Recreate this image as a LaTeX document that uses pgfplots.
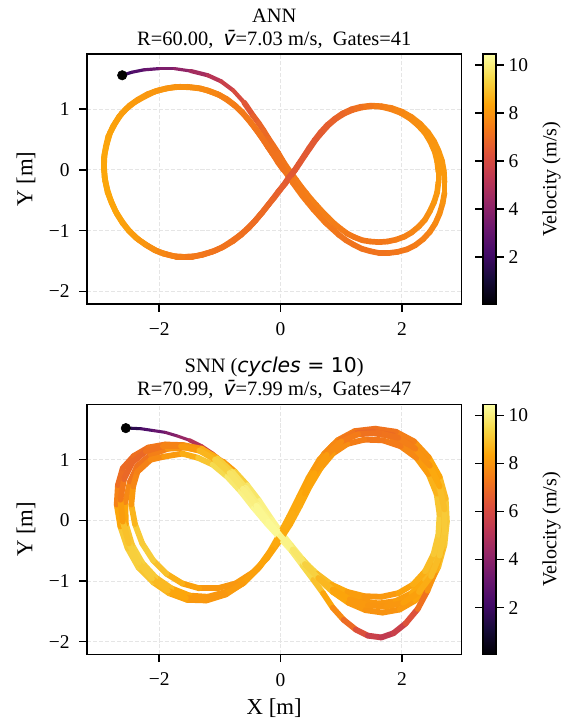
\documentclass[border=0pt]{standalone}
\usepackage{fontspec}
\setmainfont{Liberation Serif}
\newfontfamily\djv{DejaVu Sans}
\newfontfamily\djvit{DejaVu Sans Oblique}
\usepackage{pgfplots}
\usepackage{pgfplotstable}
\pgfplotsset{compat=1.18}

\pgfplotsset{colormap={inferno}{rgb255=(0,0,4) rgb255=(22,11,57) rgb255=(66,10,104) rgb255=(106,23,110) rgb255=(147,38,103) rgb255=(188,55,84) rgb255=(221,81,58) rgb255=(243,120,25) rgb255=(252,165,10) rgb255=(246,215,70) rgb255=(252,255,164)}}

% ANN: start of the run (slow part), drawn thinner
\pgfplotstableread{
x y v
-2.58 1.57 1.5
-2.45 1.61 2.3
-2.25 1.65 2.9
-2.00 1.67 3.4
-1.75 1.67 3.9
-1.48 1.63 4.4
}\annstartA
\pgfplotstableread{
x y v
-1.48 1.63 4.4
-1.20 1.56 4.9
-0.98 1.46 5.4
-0.78 1.31 5.9
-0.60 1.11 6.3
}\annstartB
\pgfplotstableread{
x y v
-0.60 1.11 6.3
-0.45 0.89 6.6
-0.36 0.77 6.8
-0.28 0.65 6.9
-0.20 0.52 7.0
-0.12 0.40 7.1
-0.04 0.28 7.2
0.03 0.16 7.2
0.10 0.05 7.3
0.18 -0.06 7.3
0.26 -0.17 7.4
0.34 -0.28 7.4
0.42 -0.38 7.4
0.50 -0.48 7.5
0.59 -0.58 7.5
0.68 -0.68 7.5
0.78 -0.78 7.5
0.88 -0.88 7.5
0.99 -0.97 7.4
1.10 -1.05 7.4
1.22 -1.11 7.3
1.35 -1.16 7.3
1.48 -1.18 7.3
1.62 -1.19 7.3
1.76 -1.18 7.3
1.90 -1.15 7.4
2.04 -1.10 7.5
2.16 -1.03 7.6
2.28 -0.93 7.7
2.38 -0.82 7.8
2.46 -0.68 7.9
2.53 -0.53 8.0
2.58 -0.37 8.1
2.60 -0.20 8.1
2.60 -0.03 8.1
2.58 0.14 8.1
2.54 0.30 8.1
2.47 0.46 8.0
2.38 0.61 8.0
2.26 0.74 7.9
2.13 0.85 7.8
1.98 0.94 7.7
1.82 1.00 7.6
1.66 1.04 7.5
1.50 1.05 7.4
1.34 1.03 7.2
1.19 0.99 7.1
1.05 0.93 6.9
0.92 0.85 6.8
0.80 0.75 6.7
0.69 0.63 6.6
0.58 0.50 6.5
0.49 0.37 6.5
0.40 0.24 6.5
0.32 0.12 6.5
0.24 0.00 6.5
0.16 -0.11 6.5
0.08 -0.22 6.6
-0.01 -0.33 6.7
-0.10 -0.45 6.8
-0.20 -0.57 6.9
-0.30 -0.70 7.0
-0.41 -0.83 7.0
-0.52 -0.95 7.1
-0.65 -1.07 7.1
-0.78 -1.17 7.2
-0.93 -1.26 7.2
-1.08 -1.33 7.2
-1.24 -1.38 7.3
-1.40 -1.42 7.3
-1.56 -1.43 7.4
-1.72 -1.43 7.5
-1.88 -1.39 7.6
-2.03 -1.34 7.8
-2.19 -1.25 7.9
-2.34 -1.15 8.1
-2.48 -1.02 8.2
-2.60 -0.88 8.3
-2.70 -0.72 8.3
-2.78 -0.55 8.4
-2.85 -0.37 8.4
-2.89 -0.18 8.4
-2.91 0.01 8.4
-2.91 0.20 8.4
-2.88 0.38 8.4
-2.84 0.55 8.3
-2.76 0.72 8.3
-2.66 0.88 8.2
-2.54 1.01 8.2
-2.40 1.12 8.1
-2.24 1.21 8.1
-2.08 1.29 8.0
-1.90 1.34 8.0
-1.72 1.37 7.9
-1.54 1.37 7.9
-1.36 1.35 7.8
-1.20 1.31 7.7
-1.04 1.25 7.6
-0.89 1.17 7.5
-0.76 1.07 7.4
-0.63 0.95 7.4
-0.52 0.82 7.3
-0.42 0.69 7.3
-0.32 0.55 7.2
-0.23 0.42 7.2
-0.14 0.28 7.2
-0.05 0.15 7.2
0.03 0.03 7.2
0.12 -0.09 7.3
0.20 -0.21 7.3
0.28 -0.32 7.4
0.36 -0.43 7.4
0.45 -0.54 7.4
0.54 -0.65 7.4
0.64 -0.76 7.4
0.74 -0.87 7.4
0.85 -0.97 7.3
0.96 -1.07 7.3
1.08 -1.16 7.2
1.20 -1.23 7.2
1.34 -1.30 7.2
1.48 -1.34 7.2
1.63 -1.37 7.2
1.78 -1.37 7.2
1.93 -1.35 7.3
2.08 -1.31 7.3
2.22 -1.24 7.4
2.35 -1.14 7.5
2.46 -1.02 7.6
2.55 -0.88 7.7
2.62 -0.72 7.8
2.67 -0.55 7.9
2.70 -0.38 8.0
2.70 -0.20 8.1
2.69 -0.02 8.1
2.66 0.15 8.1
2.60 0.32 8.1
2.53 0.47 8.0
2.43 0.62 8.0
2.30 0.76 7.9
2.16 0.87 7.8
2.00 0.96 7.7
1.83 1.02 7.6
1.66 1.05 7.5
1.49 1.06 7.4
1.32 1.04 7.2
1.17 1.00 7.1
1.02 0.93 6.9
0.89 0.84 6.8
0.77 0.74 6.7
0.66 0.62 6.6
0.56 0.49 6.5
0.47 0.36 6.5
0.38 0.22 6.5
0.30 0.10 6.5
0.22 -0.02 6.5
0.13 -0.13 6.5
0.05 -0.25 6.6
-0.04 -0.36 6.7
-0.13 -0.48 6.8
-0.23 -0.61 6.9
-0.33 -0.73 7.0
-0.44 -0.86 7.0
-0.56 -0.98 7.1
-0.69 -1.09 7.1
-0.83 -1.19 7.2
-0.97 -1.28 7.2
-1.13 -1.35 7.2
-1.29 -1.40 7.3
-1.45 -1.43 7.3
-1.61 -1.43 7.4
-1.77 -1.42 7.5
-1.93 -1.38 7.6
-2.08 -1.32 7.8
-2.23 -1.23 7.9
-2.38 -1.12 8.1
-2.51 -0.99 8.2
-2.62 -0.84 8.3
-2.72 -0.68 8.3
-2.80 -0.50 8.4
-2.86 -0.31 8.4
-2.90 -0.12 8.4
-2.91 0.07 8.4
-2.90 0.26 8.4
-2.86 0.44 8.4
-2.81 0.61 8.3
-2.72 0.78 8.3
-2.62 0.93 8.2
-2.49 1.06 8.2
-2.35 1.16 8.1
-2.19 1.25 8.1
-2.02 1.31 8.0
-1.84 1.35 8.0
-1.66 1.37 7.9
-1.48 1.36 7.9
-1.31 1.34 7.8
-1.15 1.29 7.7
-1.00 1.23 7.6
-0.86 1.14 7.5
-0.73 1.04 7.4
-0.61 0.92 7.4
-0.50 0.79 7.3
-0.40 0.66 7.3
-0.30 0.52 7.2
-0.21 0.38 7.2
-0.12 0.25 7.2
-0.04 0.12 7.2
0.05 0.00 7.2
}\anndata

% SNN: start of the run (slow part), drawn thinner
\pgfplotstableread{
x y v
-2.50 1.52 1.0
-2.30 1.51 2.2
-2.10 1.48 2.8
-1.90 1.45 3.4
-1.70 1.39 4.0
-1.50 1.32 4.6
}\snnstartA
\pgfplotstableread{
x y v
-1.50 1.32 4.6
-1.30 1.22 5.4
-1.12 1.10 6.2
-0.95 0.97 7.5
}\snnstartB
\pgfplotstableread{
x y v
-0.95 0.97 7.5
-0.75 0.80 8.8
-0.55 0.58 9.6
-0.35 0.32 10.0
-0.15 0.02 10.2
0.02 -0.22 10.2
0.18 -0.42 10.1
0.36 -0.64 9.8
0.56 -0.86 9.3
0.80 -1.06 8.8
1.06 -1.22 8.4
1.34 -1.33 8.1
1.62 -1.37 8.0
1.90 -1.33 8.1
2.16 -1.20 8.3
2.38 -0.98 8.6
2.55 -0.68 8.9
2.65 -0.34 9.2
2.68 0.02 9.3
2.64 0.38 9.0
2.52 0.72 8.6
2.32 1.02 8.1
2.06 1.26 7.6
1.76 1.40 7.3
1.44 1.45 7.2
1.12 1.40 7.4
0.86 1.24 7.8
0.64 1.00 8.1
0.46 0.70 8.3
0.30 0.38 8.4
0.14 0.06 8.5
-0.02 -0.24 8.5
-0.18 -0.52 8.4
-0.38 -0.80 8.3
-0.62 -1.02 8.2
-0.90 -1.18 8.1
-1.20 -1.26 8.0
-1.50 -1.24 8.2
-1.80 -1.12 8.6
-2.06 -0.94 9.0
-2.28 -0.70 9.3
-2.45 -0.40 9.3
-2.55 -0.06 8.8
-2.56 0.30 8.0
-2.48 0.64 7.4
-2.36 0.90 7.1
-2.14 1.08 7.3
-1.86 1.18 7.7
-1.56 1.20 8.2
-1.28 1.14 8.8
-1.02 0.98 9.4
-0.78 0.76 9.8
-0.56 0.50 10.0
-0.36 0.22 10.2
-0.16 -0.04 10.3
0.02 -0.26 10.3
0.20 -0.48 10.1
0.40 -0.72 9.7
0.62 -0.96 9.1
0.86 -1.18 8.6
1.12 -1.36 8.2
1.40 -1.48 8.0
1.68 -1.52 7.9
1.96 -1.47 8.0
2.22 -1.32 8.2
2.44 -1.08 8.5
2.60 -0.76 8.8
2.70 -0.40 9.1
2.74 -0.02 9.2
2.72 0.36 9.0
2.62 0.72 8.6
2.44 1.04 8.2
2.20 1.30 7.7
1.90 1.46 7.3
1.56 1.51 7.1
1.22 1.47 7.2
0.94 1.32 7.6
0.72 1.10 8.0
0.54 0.82 8.3
0.38 0.50 8.4
0.22 0.16 8.5
0.06 -0.16 8.5
-0.12 -0.46 8.4
-0.34 -0.76 8.3
-0.60 -1.02 8.2
-0.90 -1.22 8.1
-1.22 -1.32 8.0
-1.54 -1.31 8.1
-1.84 -1.20 8.5
-2.10 -1.02 8.9
-2.34 -0.78 9.2
-2.52 -0.46 9.3
-2.64 -0.10 8.9
-2.70 0.26 7.9
-2.68 0.58 7.2
-2.60 0.86 6.9
-2.42 1.06 7.0
-2.18 1.20 7.2
-1.90 1.25 7.4
-1.60 1.24 7.7
-1.30 1.18 8.2
-1.04 1.02 8.9
-0.80 0.80 9.5
-0.58 0.54 9.9
-0.38 0.26 10.1
-0.18 -0.02 10.2
0.00 -0.26 10.2
0.18 -0.46 10.0
0.38 -0.68 9.6
0.60 -0.88 9.1
0.84 -1.06 8.6
1.10 -1.18 8.3
1.38 -1.25 8.1
1.66 -1.26 8.0
1.94 -1.20 8.2
2.18 -1.06 8.4
2.38 -0.84 8.7
2.52 -0.56 9.0
2.60 -0.24 9.2
2.62 0.10 9.2
2.57 0.44 8.9
2.44 0.76 8.4
2.24 1.03 7.9
1.98 1.22 7.5
1.68 1.32 7.3
1.38 1.33 7.3
1.10 1.26 7.6
0.86 1.10 8.0
0.66 0.86 8.3
0.48 0.56 8.4
0.32 0.24 8.5
0.16 -0.06 8.5
-0.02 -0.34 8.4
-0.22 -0.62 8.3
-0.46 -0.86 8.2
-0.74 -1.04 8.1
-1.04 -1.12 8.0
-1.34 -1.12 8.1
-1.62 -1.04 8.4
-1.88 -0.88 8.8
-2.10 -0.66 9.1
-2.28 -0.38 9.3
-2.40 -0.06 9.0
-2.46 0.26 8.4
-2.43 0.56 7.8
-2.36 0.80 7.5
-2.14 1.00 7.6
-1.92 1.05 7.9
-1.62 1.10 8.3
-1.36 1.03 8.8
-1.12 0.92 9.3
-0.88 0.72 9.7
-0.66 0.48 10.0
-0.44 0.20 10.2
-0.22 -0.06 10.3
-0.02 -0.28 10.3
0.18 -0.50 10.1
0.36 -0.74 9.7
0.54 -0.98 9.2
0.70 -1.20 8.7
0.86 -1.44 8.1
1.04 -1.64 7.4
1.24 -1.80 6.6
1.44 -1.90 5.9
1.66 -1.93 5.4
1.86 -1.86 5.4
2.06 -1.70 5.9
2.26 -1.46 6.7
2.42 -1.16 7.6
2.56 -0.82 8.3
2.66 -0.46 8.8
2.70 -0.08 9.1
2.68 0.30 9.0
2.58 0.66 8.6
2.40 0.98 8.1
2.16 1.24 7.6
1.86 1.40 7.2
1.52 1.46 6.8
1.20 1.43 7.0
0.92 1.28 7.5
0.70 1.06 7.9
0.52 0.78 8.2
0.36 0.46 8.4
0.20 0.12 8.5
0.04 -0.18 8.5
-0.14 -0.48 8.4
-0.36 -0.78 8.3
-0.62 -1.04 8.2
-0.92 -1.22 8.1
-1.24 -1.30 8.0
-1.56 -1.28 8.2
-1.86 -1.16 8.6
-2.12 -0.96 9.0
-2.34 -0.70 9.3
-2.50 -0.38 9.2
-2.60 -0.02 8.7
-2.64 0.34 7.7
-2.58 0.68 7.0
-2.44 0.96 6.8
-2.22 1.14 7.0
-1.94 1.22 7.4
-1.64 1.22 7.8
-1.34 1.15 8.4
-1.08 1.00 9.0
-0.84 0.78 9.6
-0.62 0.52 9.9
-0.40 0.24 10.2
-0.20 -0.02 10.3
0.00 -0.26 10.3
0.20 -0.48 10.0
0.40 -0.72 9.6
0.62 -0.95 9.0
0.86 -1.14 8.5
1.14 -1.30 8.2
1.44 -1.40 8.0
1.74 -1.42 8.0
2.02 -1.36 8.1
2.28 -1.18 8.4
2.48 -0.92 8.7
2.62 -0.58 9.0
2.70 -0.20 9.2
2.70 0.18 9.1
2.62 0.56 8.7
2.46 0.90 8.2
2.22 1.18 7.7
1.94 1.36 7.3
1.62 1.44 7.1
1.28 1.42 7.2
1.00 1.30 7.6
0.76 1.08 8.0
0.56 0.78 8.3
0.40 0.44 8.4
}\snndata

\pgfplotsset{
  traj/.style={mesh, shader=flat, line cap=round, point meta=explicit},
  trajaxis/.style={
    scale only axis,
    width=269.6pt, height=180pt,
    xmin=-3.19, xmax=2.98, ymin=-2.21, ymax=1.91,
    axis line style={line width=1.1pt},
    tick style={line width=1.1pt, black},
    major tick length=5.6pt,
    tick align=outside,
    xtick pos=lower, ytick pos=left,
    xtick={-2,0,2}, xticklabels={−2,0,2},
    ytick={-2,-1,0,1}, yticklabels={−2,−1,0,1},
    tick label style={font=\fontsize{14}{16}\selectfont},
    xticklabel style={yshift=-4.3pt},
    yticklabel style={xshift=-3.4pt},
    label style={font=\fontsize{16.4}{18}\selectfont},
    grid=major,
    grid style={dash pattern=on 2.9pt off 1.4pt, line width=0.7pt, black!10},
    ylabel={Y [m]},
    ylabel style={at={(axis description cs:-0.163,0.5)}, anchor=center},
    xlabel style={at={(axis description cs:0.5,-0.214)}, anchor=center},
    title style={align=center, inner sep=0pt, anchor=south, at={(0.5,1)}, yshift=-2pt, font=\fontsize{14.7}{16.6}\selectfont},
    colormap name=inferno,
    point meta min=0.05, point meta max=10.45,
    colorbar,
    colorbar shift/.style={xshift=15.7pt},
    colorbar style={
      at={(parent axis.north east)}, anchor=north west,
      width=9.1pt,
      axis line style={line width=1.1pt},
      tick style={line width=1.1pt, black},
      major tick length=5.6pt,
      tick align=outside,
      ytick={2,4,6,8,10}, yticklabels={2,4,6,8,10},
      tick label style={font=\fontsize{14}{16}\selectfont},
      ylabel={Velocity (m/s)},
      ylabel style={font=\fontsize{14.5}{16}\selectfont, at={(axis description cs:5.41,0.5)}, anchor=center},
    },
  }
}

\begin{document}
\begin{tikzpicture}
\useasboundingbox (0,0) rectangle (410.4pt,-519.84pt);
\begin{axis}[trajaxis,
  at={(62.64pt,-218.9pt)}, anchor=south west,
  title={ANN\\R=60.00,\ \ {\djvit v̄}=7.03 m/s,\ \ Gates=41}]
\addplot[traj, line width=2.3pt] table[x=x, y=y, meta=v] {\annstartA};
\addplot[traj, line width=3.0pt] table[x=x, y=y, meta=v] {\annstartB};
\addplot[traj, line width=4.1pt] table[x=x, y=y, meta=v] {\anndata};
\addplot[only marks, mark=*, mark size=3.4pt, black] coordinates {(-2.61,1.56)};
\end{axis}
\begin{axis}[trajaxis,
  at={(62.64pt,-471.2pt)}, anchor=south west,
  xlabel={X [m]},
  title={SNN ({\djvit cycles}{\djv\ =\ 10})\\R=70.99,\ \ {\djvit v̄}=7.99 m/s,\ \ Gates=47}]
\addplot[traj, line width=2.2pt] table[x=x, y=y, meta=v] {\snnstartA};
\addplot[traj, line width=3.0pt] table[x=x, y=y, meta=v] {\snnstartB};
\addplot[traj, line width=4.2pt] table[x=x, y=y, meta=v] {\snndata};
\addplot[only marks, mark=*, mark size=3.4pt, black] coordinates {(-2.55,1.52)};
\end{axis}
\end{tikzpicture}
\end{document}
